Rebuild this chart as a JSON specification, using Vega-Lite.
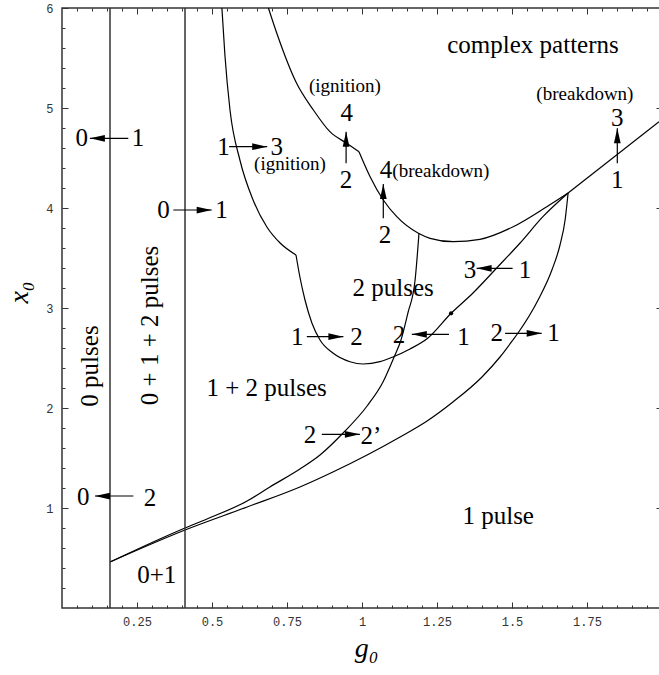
{
  "$schema": "https://vega.github.io/schema/vega-lite/v6.json",
  "width": 600,
  "height": 600,
  "autosize": {"type": "none"},
  "padding": {"left": 62, "top": 8, "right": 0, "bottom": 67},
  "background": "white",
  "config": {
    "view": {"stroke": "#333", "strokeWidth": 1.5},
    "axis": {"grid": false, "domain": false, "tickColor": "#333", "tickWidth": 1, "labelFont": "Liberation Mono", "labelFontSize": 12, "labelColor": "#333", "labelOverlap": false, "labelFlush": false},
    "text": {"font": "Liberation Serif", "color": "black"}
  },
  "resolve": {"axis": {"x": "independent", "y": "independent"}},
  "datasets": {
    "curves": [
      {"c": "A1", "i": 0, "g": 0.533, "x0": 6.0},
      {"c": "A1", "i": 1, "g": 0.543, "x0": 5.53},
      {"c": "A1", "i": 2, "g": 0.56, "x0": 4.98},
      {"c": "A1", "i": 3, "g": 0.593, "x0": 4.48},
      {"c": "A1", "i": 4, "g": 0.637, "x0": 4.08},
      {"c": "A1", "i": 5, "g": 0.683, "x0": 3.81},
      {"c": "A1", "i": 6, "g": 0.727, "x0": 3.65},
      {"c": "A1", "i": 7, "g": 0.78, "x0": 3.53},
      {"c": "A2", "i": 7, "g": 0.78, "x0": 3.53},
      {"c": "A2", "i": 8, "g": 0.793, "x0": 3.31},
      {"c": "A2", "i": 9, "g": 0.81, "x0": 3.08},
      {"c": "A2", "i": 10, "g": 0.833, "x0": 2.85},
      {"c": "A2", "i": 11, "g": 0.86, "x0": 2.68},
      {"c": "A2", "i": 12, "g": 0.903, "x0": 2.55},
      {"c": "A2", "i": 13, "g": 0.96, "x0": 2.463},
      {"c": "A2", "i": 14, "g": 1.003, "x0": 2.44},
      {"c": "A2", "i": 15, "g": 1.06, "x0": 2.463},
      {"c": "A2", "i": 16, "g": 1.103, "x0": 2.51},
      {"c": "A2", "i": 17, "g": 1.16, "x0": 2.59},
      {"c": "A2", "i": 18, "g": 1.22, "x0": 2.7},
      {"c": "A2", "i": 19, "g": 1.297, "x0": 2.947},
      {"c": "A2", "i": 20, "g": 1.37, "x0": 3.15},
      {"c": "A2", "i": 21, "g": 1.449, "x0": 3.4},
      {"c": "A2", "i": 22, "g": 1.527, "x0": 3.65},
      {"c": "A2", "i": 23, "g": 1.603, "x0": 3.913},
      {"c": "A2", "i": 24, "g": 1.687, "x0": 4.15},
      {"c": "B1", "i": 0, "g": 0.688, "x0": 6.0},
      {"c": "B1", "i": 1, "g": 0.716, "x0": 5.747},
      {"c": "B1", "i": 2, "g": 0.782, "x0": 5.247},
      {"c": "B1", "i": 3, "g": 0.838, "x0": 4.98},
      {"c": "B1", "i": 4, "g": 0.893, "x0": 4.763},
      {"c": "B1", "i": 5, "g": 0.949, "x0": 4.647},
      {"c": "B1", "i": 6, "g": 0.99, "x0": 4.563},
      {"c": "B2", "i": 6, "g": 0.99, "x0": 4.563},
      {"c": "B2", "i": 7, "g": 1.027, "x0": 4.313},
      {"c": "B2", "i": 8, "g": 1.071, "x0": 4.08},
      {"c": "B2", "i": 9, "g": 1.116, "x0": 3.913},
      {"c": "B2", "i": 10, "g": 1.188, "x0": 3.747},
      {"c": "B2", "i": 11, "g": 1.227, "x0": 3.697},
      {"c": "B2", "i": 12, "g": 1.304, "x0": 3.663},
      {"c": "B2", "i": 13, "g": 1.393, "x0": 3.687},
      {"c": "B2", "i": 14, "g": 1.504, "x0": 3.813},
      {"c": "B2", "i": 15, "g": 1.616, "x0": 4.013},
      {"c": "B2", "i": 16, "g": 1.687, "x0": 4.15},
      {"c": "B3", "i": 16, "g": 1.687, "x0": 4.15},
      {"c": "B3", "i": 17, "g": 1.99, "x0": 4.863},
      {"c": "C", "i": 0, "g": 1.19, "x0": 3.75},
      {"c": "C", "i": 1, "g": 1.177, "x0": 3.28},
      {"c": "C", "i": 2, "g": 1.153, "x0": 2.95},
      {"c": "C", "i": 3, "g": 1.13, "x0": 2.68},
      {"c": "C", "i": 4, "g": 1.107, "x0": 2.51},
      {"c": "C", "i": 5, "g": 1.07, "x0": 2.26},
      {"c": "C", "i": 6, "g": 1.017, "x0": 2.02},
      {"c": "C", "i": 7, "g": 0.937, "x0": 1.75},
      {"c": "C", "i": 8, "g": 0.86, "x0": 1.53},
      {"c": "C", "i": 9, "g": 0.793, "x0": 1.39},
      {"c": "C", "i": 10, "g": 0.693, "x0": 1.21},
      {"c": "C", "i": 11, "g": 0.617, "x0": 1.07},
      {"c": "C", "i": 12, "g": 0.483, "x0": 0.89},
      {"c": "C", "i": 13, "g": 0.41, "x0": 0.8},
      {"c": "C", "i": 14, "g": 0.16, "x0": 0.46},
      {"c": "D", "i": 0, "g": 1.687, "x0": 4.15},
      {"c": "D", "i": 1, "g": 1.677, "x0": 3.88},
      {"c": "D", "i": 2, "g": 1.66, "x0": 3.63},
      {"c": "D", "i": 3, "g": 1.633, "x0": 3.38},
      {"c": "D", "i": 4, "g": 1.587, "x0": 3.08},
      {"c": "D", "i": 5, "g": 1.52, "x0": 2.75},
      {"c": "D", "i": 6, "g": 1.503, "x0": 2.68},
      {"c": "D", "i": 7, "g": 1.46, "x0": 2.51},
      {"c": "D", "i": 8, "g": 1.4, "x0": 2.31},
      {"c": "D", "i": 9, "g": 1.303, "x0": 2.06},
      {"c": "D", "i": 10, "g": 1.217, "x0": 1.87},
      {"c": "D", "i": 11, "g": 1.127, "x0": 1.71},
      {"c": "D", "i": 12, "g": 1.017, "x0": 1.53},
      {"c": "D", "i": 13, "g": 0.903, "x0": 1.36},
      {"c": "D", "i": 14, "g": 0.793, "x0": 1.21},
      {"c": "D", "i": 15, "g": 0.617, "x0": 1.01},
      {"c": "D", "i": 16, "g": 0.41, "x0": 0.78},
      {"c": "D", "i": 17, "g": 0.16, "x0": 0.46}
    ],
    "vlines": [{"g": 0.16}, {"g": 0.41}],
    "arrows": [
      {"dir": "right", "g": 0.557, "x0": 4.613, "g2": 0.684, "x02": 4.613},
      {"dir": "right", "g": 0.371, "x0": 3.98, "g2": 0.499, "x02": 3.98},
      {"dir": "right", "g": 0.816, "x0": 2.713, "g2": 0.938, "x02": 2.713},
      {"dir": "right", "g": 1.477, "x0": 2.747, "g2": 1.599, "x02": 2.747},
      {"dir": "right", "g": 0.866, "x0": 1.737, "g2": 0.993, "x02": 1.737},
      {"dir": "left", "g": 0.221, "x0": 4.697, "g2": 0.093, "x02": 4.697},
      {"dir": "left", "g": 0.238, "x0": 1.12, "g2": 0.11, "x02": 1.12},
      {"dir": "left", "g": 1.29, "x0": 2.737, "g2": 1.166, "x02": 2.737},
      {"dir": "left", "g": 1.502, "x0": 3.397, "g2": 1.382, "x02": 3.397},
      {"dir": "up", "g": 0.947, "x0": 4.447, "g2": 0.947, "x02": 4.763},
      {"dir": "up", "g": 1.071, "x0": 3.897, "g2": 1.071, "x02": 4.24},
      {"dir": "up", "g": 1.851, "x0": 4.447, "g2": 1.851, "x02": 4.797}
    ],
    "dot": [{"g": 1.297, "x0": 2.947}],
    "labels": [
      {"kind": "big", "t": "complex patterns", "g": 1.57, "x0": 5.63},
      {"kind": "big", "t": "4", "g": 0.949, "x0": 4.95},
      {"kind": "big", "t": "2", "g": 0.947, "x0": 4.28},
      {"kind": "big", "t": "1", "g": 0.538, "x0": 4.61},
      {"kind": "big", "t": "3", "g": 0.716, "x0": 4.61},
      {"kind": "big", "t": "4", "g": 1.08, "x0": 4.38},
      {"kind": "big", "t": "2", "g": 1.077, "x0": 3.73},
      {"kind": "big", "t": "3", "g": 1.851, "x0": 4.9},
      {"kind": "big", "t": "1", "g": 1.851, "x0": 4.28},
      {"kind": "big", "t": "0", "g": 0.066, "x0": 4.7},
      {"kind": "big", "t": "1", "g": 0.253, "x0": 4.7},
      {"kind": "big", "t": "0", "g": 0.338, "x0": 3.98},
      {"kind": "big", "t": "1", "g": 0.532, "x0": 3.98},
      {"kind": "big", "t": "2 pulses", "g": 1.104, "x0": 3.205},
      {"kind": "big", "t": "1 + 2 pulses", "g": 0.682, "x0": 2.205},
      {"kind": "big", "t": "1", "g": 0.784, "x0": 2.71},
      {"kind": "big", "t": "2", "g": 0.982, "x0": 2.71},
      {"kind": "big", "t": "2", "g": 1.123, "x0": 2.73},
      {"kind": "big", "t": "1", "g": 1.338, "x0": 2.71},
      {"kind": "big", "t": "3", "g": 1.36, "x0": 3.38},
      {"kind": "big", "t": "1", "g": 1.543, "x0": 3.38},
      {"kind": "big", "t": "2", "g": 1.449, "x0": 2.747},
      {"kind": "big", "t": "1", "g": 1.638, "x0": 2.747},
      {"kind": "big", "t": "2", "g": 0.827, "x0": 1.73},
      {"kind": "big", "t": "2’", "g": 1.03, "x0": 1.72},
      {"kind": "big", "t": "0", "g": 0.071, "x0": 1.113},
      {"kind": "big", "t": "2", "g": 0.293, "x0": 1.097},
      {"kind": "big", "t": "1 pulse", "g": 1.454, "x0": 0.922},
      {"kind": "big", "t": "0+1", "g": 0.316, "x0": 0.328},
      {"kind": "small", "t": "(ignition)", "g": 0.943, "x0": 5.22},
      {"kind": "small", "t": "(ignition)", "g": 0.76, "x0": 4.437},
      {"kind": "small", "t": "(breakdown)", "g": 1.263, "x0": 4.37},
      {"kind": "small", "t": "(breakdown)", "g": 1.743, "x0": 5.137},
      {"kind": "vert", "t": "0 pulses", "g": 0.093, "x0": 2.42},
      {"kind": "vert", "t": "0 + 1 + 2 pulses", "g": 0.293, "x0": 2.825}
    ]
  },
  "layer": [
    {
      "data": {"name": "curves"},
      "mark": {"type": "line", "color": "black", "strokeWidth": 1.2, "interpolate": "monotone"},
      "encoding": {
        "x": {"field": "g", "type": "quantitative", "scale": {"domain": [0, 2], "nice": false, "zero": false},
          "axis": {"orient": "bottom", "values": [0.25, 0.5, 0.75, 1, 1.25, 1.5, 1.75, 2], "tickSize": -6, "labelPadding": 14, "labelExpr": "'' + datum.value",
            "title": "g₀", "titleFont": "Liberation Serif", "titleFontStyle": "italic", "titleFontWeight": "normal", "titleFontSize": 28, "titleColor": "black", "titleX": 304, "titleY": 48, "titleBaseline": "alphabetic", "titleAlign": "center", "titleAngle": 0}},
        "y": {"field": "x0", "type": "quantitative", "scale": {"domain": [0, 6], "nice": false, "zero": false},
          "axis": {"orient": "left", "values": [1, 2, 3, 4, 5, 6], "tickSize": -6, "labelPadding": 15, "labelExpr": "'' + datum.value",
            "title": "x₀", "titleFont": "Liberation Serif", "titleFontStyle": "italic", "titleFontWeight": "normal", "titleFontSize": 28, "titleColor": "black", "titleX": -35, "titleY": 284, "titleBaseline": "alphabetic", "titleAlign": "center", "titleAngle": 270}},
        "detail": {"field": "c", "type": "nominal"},
        "order": {"field": "i", "type": "quantitative"}
      }
    },
    {
      "data": {"name": "vlines"},
      "mark": {"type": "rule", "color": "#333", "strokeWidth": 1.5},
      "encoding": {
        "x": {"field": "g", "type": "quantitative", "scale": {"domain": [0, 2], "nice": false, "zero": false}, "axis": null}
      }
    },
    {
      "data": {"name": "arrows"},
      "mark": {"type": "rule", "color": "black", "strokeWidth": 1.2},
      "encoding": {
        "x": {"field": "g", "type": "quantitative", "scale": {"domain": [0, 2], "nice": false, "zero": false},
          "axis": {"orient": "bottom", "values": [0.05, 0.1, 0.15, 0.2, 0.3, 0.35, 0.4, 0.45, 0.55, 0.6, 0.65, 0.7, 0.8, 0.85, 0.9, 0.95, 1.05, 1.1, 1.15, 1.2, 1.3, 1.35, 1.4, 1.45, 1.55, 1.6, 1.65, 1.7, 1.8, 1.85, 1.9, 1.95], "tickSize": -3, "labels": false, "title": null}},
        "y": {"field": "x0", "type": "quantitative", "scale": {"domain": [0, 6], "nice": false, "zero": false},
          "axis": {"orient": "left", "values": [0.2, 0.4, 0.6, 0.8, 1.2, 1.4, 1.6, 1.8, 2.2, 2.4, 2.6, 2.8, 3.2, 3.4, 3.6, 3.8, 4.2, 4.4, 4.6, 4.8, 5.2, 5.4, 5.6, 5.8], "tickSize": -3, "labels": false, "title": null}},
        "x2": {"field": "g2"},
        "y2": {"field": "x02"}
      }
    },
    {
      "data": {"name": "arrows"},
      "mark": {"type": "point", "filled": true, "color": "black", "opacity": 1, "size": 225, "strokeWidth": 0},
      "encoding": {
        "x": {"field": "g2", "type": "quantitative", "scale": {"domain": [0, 2], "nice": false, "zero": false},
          "axis": {"orient": "top", "values": [0.25, 0.5, 0.75, 1, 1.25, 1.5, 1.75], "tickSize": -6, "labels": false, "title": null}},
        "y": {"field": "x02", "type": "quantitative", "scale": {"domain": [0, 6], "nice": false, "zero": false},
          "axis": {"orient": "right", "values": [1, 2, 3, 4, 5], "tickSize": -6, "labels": false, "title": null}},
        "shape": {"field": "dir", "type": "nominal", "legend": null,
          "scale": {"domain": ["right", "left", "up"], "range": ["M0,0L-2,-0.45L-2,0.45Z", "M0,0L2,-0.45L2,0.45Z", "M0,0L-0.45,2L0.45,2Z"]}}
      }
    },
    {
      "data": {"name": "dot"},
      "mark": {"type": "circle", "color": "black", "opacity": 1, "size": 18},
      "encoding": {
        "x": {"field": "g", "type": "quantitative", "scale": {"domain": [0, 2], "nice": false, "zero": false},
          "axis": {"orient": "top", "values": [0.05, 0.1, 0.15, 0.2, 0.3, 0.35, 0.4, 0.45, 0.55, 0.6, 0.65, 0.7, 0.8, 0.85, 0.9, 0.95, 1.05, 1.1, 1.15, 1.2, 1.3, 1.35, 1.4, 1.45, 1.55, 1.6, 1.65, 1.7, 1.8, 1.85, 1.9, 1.95], "tickSize": -3, "labels": false, "title": null}},
        "y": {"field": "x0", "type": "quantitative", "scale": {"domain": [0, 6], "nice": false, "zero": false},
          "axis": {"orient": "right", "values": [0.2, 0.4, 0.6, 0.8, 1.2, 1.4, 1.6, 1.8, 2.2, 2.4, 2.6, 2.8, 3.2, 3.4, 3.6, 3.8, 4.2, 4.4, 4.6, 4.8, 5.2, 5.4, 5.6, 5.8], "tickSize": -3, "labels": false, "title": null}}
      }
    },
    {
      "data": {"name": "labels"},
      "transform": [{"filter": "datum.kind === 'big'"}],
      "mark": {"type": "text", "fontSize": 25, "align": "center", "baseline": "middle"},
      "encoding": {
        "x": {"field": "g", "type": "quantitative", "scale": {"domain": [0, 2], "nice": false, "zero": false}, "axis": null},
        "y": {"field": "x0", "type": "quantitative", "scale": {"domain": [0, 6], "nice": false, "zero": false}, "axis": null},
        "text": {"field": "t"}
      }
    },
    {
      "data": {"name": "labels"},
      "transform": [{"filter": "datum.kind === 'small'"}],
      "mark": {"type": "text", "fontSize": 19, "align": "center", "baseline": "middle"},
      "encoding": {
        "x": {"field": "g", "type": "quantitative", "scale": {"domain": [0, 2], "nice": false, "zero": false}, "axis": null},
        "y": {"field": "x0", "type": "quantitative", "scale": {"domain": [0, 6], "nice": false, "zero": false}, "axis": null},
        "text": {"field": "t"}
      }
    },
    {
      "data": {"name": "labels"},
      "transform": [{"filter": "datum.kind === 'vert'"}],
      "mark": {"type": "text", "fontSize": 25, "align": "center", "baseline": "middle", "angle": 270},
      "encoding": {
        "x": {"field": "g", "type": "quantitative", "scale": {"domain": [0, 2], "nice": false, "zero": false}, "axis": null},
        "y": {"field": "x0", "type": "quantitative", "scale": {"domain": [0, 6], "nice": false, "zero": false}, "axis": null},
        "text": {"field": "t"}
      }
    }
  ]
}
